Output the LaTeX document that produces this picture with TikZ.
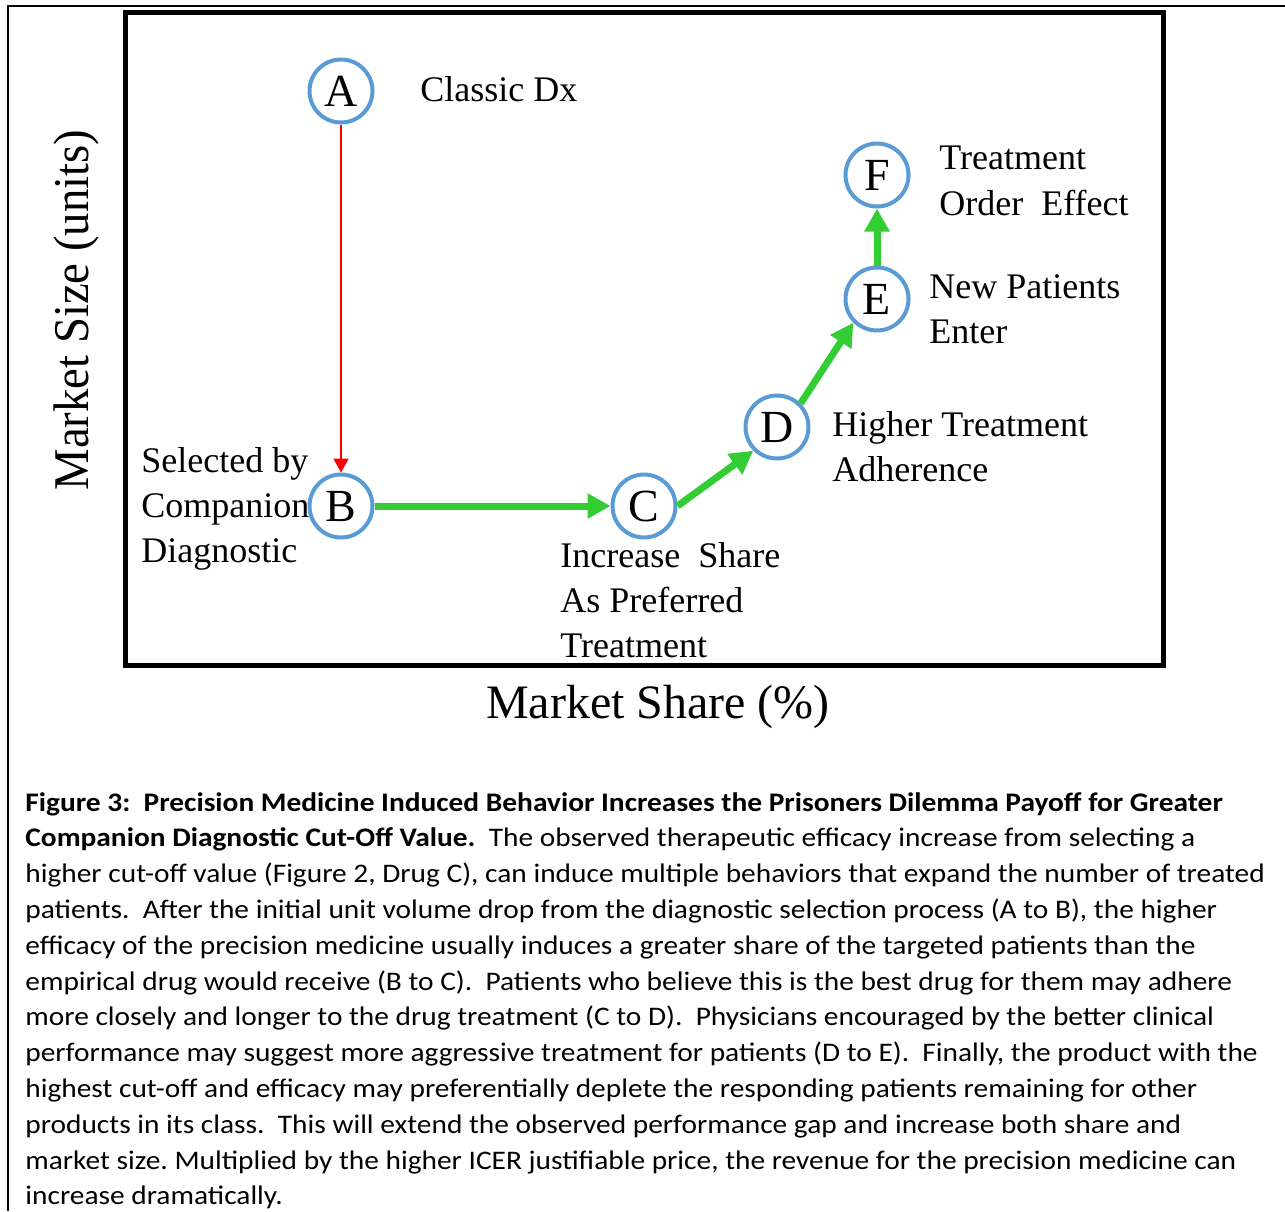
\documentclass[tikz,border=0pt]{standalone}
\usepackage{fontspec}
\setmainfont{Liberation Serif}
\newfontfamily\capfont{Carlito}
\usetikzlibrary{arrows.meta}
\definecolor{circblue}{RGB}{91,155,213}
\definecolor{arrgreen}{RGB}{50,205,50}
\frenchspacing
\newcommand{\capline}[1]{\scalebox{1.097}[1]{#1}}
\tikzset{
  circnode/.style={circle, draw=circblue, line width=2pt, fill=white, minimum size=31.5pt, inner sep=0pt,
    font=\fontsize{23}{26}\selectfont},
  lab/.style={anchor=base west, inner sep=0pt, font=\fontsize{18}{22}\selectfont},
  captxt/.style={anchor=base west, inner sep=0pt, font=\capfont\fontsize{13.4}{16}\selectfont},
  garrow/.style={draw=arrgreen, line width=3.5pt, -{Triangle[length=11.5pt,width=12pt]}},
  rarrow/.style={draw=red, line width=0.9pt, -{Triangle[length=7pt,width=7.5pt]}},
}
\begin{document}
\begin{tikzpicture}[x=0.5pt,y=-0.5pt]
\useasboundingbox (0,0) rectangle (1285,1211);
% outer frame
\draw[line width=1pt] (8,1211) -- (8,6) -- (1285,6);
% inner box
\draw[line width=2.5pt] (125,12) rectangle (1163.5,665);
% axis titles
\node[anchor=base, inner sep=0pt, font=\fontsize{24}{28}\selectfont] (xt) at (658,718) {Market Share (\%)};
\node[anchor=base, inner sep=0pt, rotate=90, font=\fontsize{25}{30}\selectfont] (yt) at (88,310) {\scalebox{0.935}[1]{Market Size (units)}};
% nodes
\node[circnode] (A) at (341,91) {A};
\node[circnode] (B) at (341,506) {B};
\node[circnode] (C) at (644,506) {C};
\node[circnode] (D) at (777,427) {D};
\node[circnode] (E) at (877,299) {E};
\node[circnode] (F) at (877,175) {F};
% connectors
\draw[rarrow] (A) -- (B);
\draw[garrow] (B) -- (C);
\draw[garrow] (C.east) -- (D.south west);
\draw[garrow] (D.north east) -- (E.south west);
\draw[garrow] (E) -- (F);
% labels
\node[lab] (la) at (420,101) {Classic Dx};
\node[lab] (lb1) at (141,472) {Selected by};
\node[lab] (lb2) at (141,517) {Companion};
\node[lab] (lb3) at (141,562) {Diagnostic};
\node[lab] (lc1) at (560,567) {Increase~ Share};
\node[lab] (lc2) at (560,612) {As Preferred};
\node[lab] (lc3) at (560,657) {Treatment};
\node[lab] (ld1) at (832,436) {Higher Treatment};
\node[lab] (ld2) at (832,481) {Adherence};
\node[lab] (le1) at (929,298) {New Patients};
\node[lab] (le2) at (929,343) {Enter};
\node[lab] (lf1) at (939,169) {Treatment};
\node[lab] (lf2) at (939,215) {Order~ Effect};
% caption
\node[captxt] (c1) at (25,811) {\capline{\bfseries Figure 3:~ Precision Medicine Induced Behavior Increases the Prisoners Dilemma Payoff for Greater}};
\node[captxt] (c2) at (25,846.8) {\capline{\textbf{Companion Diagnostic Cut-Off Value.}~ The observed therapeutic efficacy increase from selecting a}};
\node[captxt] (c3) at (25,882.6) {\capline{higher cut-off value (Figure 2, Drug C), can induce multiple behaviors that expand the number of treated}};
\node[captxt] (c4) at (25,918.4) {\capline{patients.~ After the initial unit volume drop from the diagnostic selection process (A to B), the higher}};
\node[captxt] (c5) at (25,954.2) {\capline{efficacy of the precision medicine usually induces a greater share of the targeted patients than the}};
\node[captxt] (c6) at (25,990) {\capline{empirical drug would receive (B to C).~ Patients who believe this is the best drug for them may adhere}};
\node[captxt] (c7) at (25,1025.8) {\capline{more closely and longer to the drug treatment (C to D).~ Physicians encouraged by the better clinical}};
\node[captxt] (c8) at (25,1061.6) {\capline{performance may suggest more aggressive treatment for patients (D to E).~ Finally, the product with the}};
\node[captxt] (c9) at (25,1097.4) {\capline{highest cut-off and efficacy may preferentially deplete the responding patients remaining for other}};
\node[captxt] (c10) at (25,1133.2) {\capline{products in its class.~ This will extend the observed performance gap and increase both share and}};
\node[captxt] (c11) at (25,1169) {\capline{market size. Multiplied by the higher ICER justifiable price, the revenue for the precision medicine can}};
\node[captxt] (c12) at (25,1204.8) {\capline{increase dramatically.}};
\end{tikzpicture}
\end{document}
